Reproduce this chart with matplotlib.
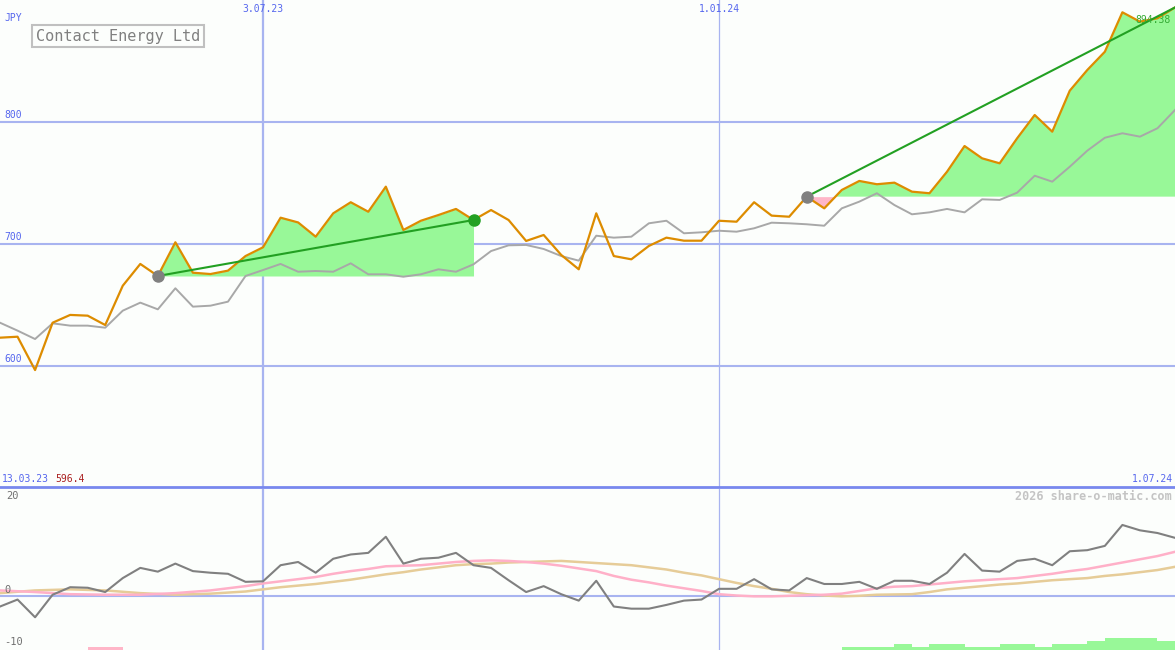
import matplotlib
matplotlib.use("Agg")
import matplotlib.pyplot as plt
import matplotlib.dates as mdates
from matplotlib.lines import Line2D
import numpy as np
import pandas as pd

# weekly closes (JPY), 20.03.23 .. 1.07.24
price = [623.0, 623.8, 596.4, 635.3, 641.7, 641.1, 633.4, 665.7, 683.6, 673.7,
         701.4, 676.4, 675.3, 678.1, 690.1, 697.3, 721.6, 717.7, 706.0, 725.2,
         734.3, 726.5, 747.1, 711.5, 719.1, 723.8, 728.8, 719.7, 727.9, 719.7,
         702.5, 707.4, 691.0, 679.2, 725.2, 690.1, 687.4, 698.4, 705.2, 702.7,
         702.7, 719.1, 718.3, 734.3, 723.3, 722.4, 738.9, 729.3, 744.4, 751.8,
         749.1, 750.4, 743.0, 741.7, 759.4, 780.5, 770.4, 766.3, 786.9, 806.0,
         792.3, 826.0, 843.0, 858.0, 890.4, 882.7, 885.5, 894.38]
# moving average
avg = [635.3, 628.8, 621.9, 634.8, 632.9, 632.9, 631.2, 645.2, 651.8, 646.3,
       663.6, 648.5, 649.3, 652.6, 673.7, 678.6, 683.6, 677.2, 677.8, 677.2,
       684.1, 675.1, 675.1, 673.1, 675.1, 679.2, 677.2, 683.3, 694.2, 698.9,
       699.2, 695.9, 690.1, 686.3, 706.8, 705.2, 706.0, 717.0, 719.1, 708.8,
       709.6, 710.9, 710.1, 712.9, 717.5, 717.0, 716.2, 715.0, 729.3, 734.8,
       741.7, 732.0, 724.4, 726.0, 728.8, 726.0, 736.7, 736.2, 742.2, 756.1,
       751.2, 763.5, 776.7, 787.3, 791.0, 788.2, 795.1, 810.1]
# lower panel: momentum and two smoothings
mom = [-1.9, -0.6, -3.9, 0.3, 1.7, 1.6, 0.8, 3.4, 5.3, 4.6,
       6.1, 4.7, 4.4, 4.2, 2.7, 2.8, 5.8, 6.4, 4.4, 7.0,
       7.8, 8.1, 11.1, 6.1, 7.0, 7.2, 8.1, 5.8, 5.3, 3.0,
       0.8, 1.9, 0.4, -0.8, 2.9, -1.9, -2.3, -2.3, -1.6, -0.8,
       -0.6, 1.4, 1.4, 3.2, 1.3, 1.1, 3.4, 2.3, 2.3, 2.7,
       1.4, 2.9, 2.9, 2.3, 4.4, 7.9, 4.8, 4.6, 6.6, 7.0,
       5.8, 8.4, 8.6, 9.4, 13.3, 12.3, 11.8, 10.9]
mom_pink = [1.1, 0.95, 0.8, 0.6, 0.4, 0.35, 0.3, 0.3, 0.3, 0.45,
            0.6, 0.85, 1.1, 1.5, 1.9, 2.4, 2.8, 3.2, 3.6, 4.2,
            4.7, 5.1, 5.6, 5.7, 5.8, 6.1, 6.4, 6.6, 6.7, 6.6,
            6.4, 6.1, 5.7, 5.2, 4.7, 3.8, 3.1, 2.6, 2.0, 1.5,
            1.0, 0.4, 0.15, 0.0, 0.0, 0.1, 0.2, 0.3, 0.5, 1.0,
            1.5, 1.8, 1.9, 2.2, 2.5, 2.8, 3.0, 3.2, 3.4, 3.8,
            4.2, 4.7, 5.1, 5.7, 6.3, 6.9, 7.5, 8.3]
mom_tan = [0.6, 0.85, 1.1, 1.2, 1.3, 1.2, 1.1, 0.85, 0.6, 0.45,
           0.3, 0.4, 0.5, 0.7, 0.9, 1.3, 1.7, 2.0, 2.3, 2.7,
           3.1, 3.6, 4.1, 4.5, 5.0, 5.4, 5.8, 6.0, 6.1, 6.3,
           6.4, 6.5, 6.6, 6.4, 6.2, 6.0, 5.8, 5.4, 5.0, 4.4,
           3.9, 3.2, 2.5, 1.9, 1.4, 0.8, 0.4, 0.15, 0.0, 0.1,
           0.3, 0.35, 0.4, 0.8, 1.3, 1.6, 1.9, 2.2, 2.4, 2.7,
           3.0, 3.2, 3.4, 3.8, 4.1, 4.5, 4.9, 5.5]
# signal bars (+ green, - pink), in steps
signal = [0, 0, 0, 0, 0, -1, -1, 0, 0, 0,
          0, 0, 0, 0, 0, 0, 0, 0, 0, 0,
          0, 0, 0, 0, 0, 0, 0, 0, 0, 0,
          0, 0, 0, 0, 0, 0, 0, 0, 0, 0,
          0, 0, 0, 0, 0, 0, 0, 0, 1, 1,
          1, 2, 1, 2, 2, 1, 1, 2, 2, 1,
          2, 2, 3, 4, 4, 4, 3, 0]
# trend segments (start, end) as week index
trends = [(9, 27), (46, 67)]

dates = pd.date_range("2023-03-20", periods=len(price), freq="7D")
vlines = [pd.Timestamp("2023-07-03"), pd.Timestamp("2024-01-01")]
vlabels = ["3.07.23", "1.01.24"]

BG = "#fcfefc"
GRID = "#a8b4f0"
BLUE = "#5566ee"
MONO = "DejaVu Sans Mono"

fig = plt.figure(figsize=(11.75, 6.5), dpi=100, facecolor=BG)
ax = fig.add_axes([0, 163 / 650, 1, 487 / 650], facecolor=BG)
ax2 = fig.add_axes([0, 0, 1, 161 / 650], facecolor=BG)

for a in (ax, ax2):
    for s in a.spines.values():
        s.set_visible(False)
    a.set_xticks([])
    a.set_yticks([])
    a.set_xlim(dates[0], dates[-1])
    a.axvline(vlines[0], color=GRID, lw=1.6, zorder=1)
    a.axvline(vlines[1], color=GRID, lw=0.9, zorder=1)

ax.set_ylim(500.3, 900.5)
for v in (600, 700, 800):
    ax.axhline(v, color=GRID, lw=1.5, zorder=1)
    ax.text(0.004, v + 1.5, str(v), transform=ax.get_yaxis_transform(),
            color=BLUE, fontsize=7, family=MONO, va="bottom", ha="left")
ax.text(0.004, 1 - 18 / 487, "JPY", transform=ax.transAxes, color=BLUE,
        fontsize=7, family=MONO, va="center", ha="left")

p = np.array(price)
for s, e in trends:
    xs = dates[s:e + 1]
    seg = p[s:e + 1]
    base = p[s]
    ax.fill_between(xs, seg, base, where=seg >= base, interpolate=True,
                    color="#98f898", lw=0, zorder=2)
    ax.fill_between(xs, seg, base, where=seg < base, interpolate=True,
                    color="#ffb6c8", lw=0, zorder=2)

ax.plot(dates, avg, color="#a8a8a8", lw=1.4, zorder=3)
ax.plot(dates, price, color="#dd8c00", lw=1.6, zorder=4)

for s, e in trends:
    ax.plot([dates[s], dates[e]], [price[s], price[e]], color="#22a022",
            lw=1.5, zorder=5)
    ax.plot(dates[s], price[s], "o", color="#808080", ms=8, zorder=6)
    if e < len(price) - 1:
        ax.plot(dates[e], price[e], "o", color="#22a022", ms=8, zorder=6)

for d, lab in zip(vlines, vlabels):
    ax.text(d, 1 - 9 / 487, lab, transform=ax.get_xaxis_transform(),
            color=BLUE, fontsize=7, family=MONO, ha="center", va="center")

ax.text(0.002, 8 / 487, "13.03.23", transform=ax.transAxes, color=BLUE,
        fontsize=7, family=MONO, ha="left", va="center")
ax.text(55 / 1175, 8 / 487, f"{min(price):.1f}", transform=ax.transAxes,
        color="#aa2020", fontsize=7, family=MONO, ha="left", va="center")
ax.text(0.998, 8 / 487, "1.07.24", transform=ax.transAxes, color=BLUE,
        fontsize=7, family=MONO, ha="right", va="center")
ax.text(0.996, 1 - 20 / 487, f"{price[-1]:.2f}", transform=ax.transAxes,
        color="#33aa33", fontsize=7, family=MONO, ha="right", va="center",
        zorder=7)

ax.text(36 / 1175, 1 - 36 / 487, "Contact Energy Ltd", transform=ax.transAxes,
        color="#808080", fontsize=11, family=MONO, ha="left", va="center",
        bbox=dict(boxstyle="square,pad=0.25", fc=BG, ec="#c0c0c0", lw=1.5))

# lower panel
ax2.set_ylim(-10, 20)
ax2.axhline(0, color=GRID, lw=1.5, zorder=1)
ax2.plot(dates, mom_tan, color="#e6cc98", lw=1.8, zorder=3)
ax2.plot(dates, mom_pink, color="#ffb0c8", lw=1.8, zorder=3)
ax2.plot(dates, mom, color="#808080", lw=1.5, zorder=4)
step = 30 / 161 * 3
for d, lv in zip(dates, signal):
    if lv != 0:
        ax2.bar(d, abs(lv) * step, bottom=-10, width=7, align="edge",
                color="#98f898" if lv > 0 else "#ffb6c8", lw=0, zorder=2)

ax2.text(0.005, 1 - 7 / 161, "20", transform=ax2.transAxes, color="#707070",
         fontsize=7.5, family=MONO, ha="left", va="center")
ax2.text(0.004, 1.2, "0", transform=ax2.get_yaxis_transform(), color="#707070",
         fontsize=7.5, family=MONO, ha="left", va="center")
ax2.text(0.004, 8 / 161, "-10", transform=ax2.transAxes, color="#707070",
         fontsize=7.5, family=MONO, ha="left", va="center")
ax2.text(0.997, 1 - 7 / 161, "2026 share-o-matic.com", transform=ax2.transAxes,
         color="#c4c4c4", fontsize=8.5, family=MONO, fontweight="bold",
         ha="right", va="center")

fig.add_artist(Line2D([0, 1], [163 / 650, 163 / 650], color="#7888ee", lw=2))

plt.savefig("out.png", dpi=100, facecolor=BG)
